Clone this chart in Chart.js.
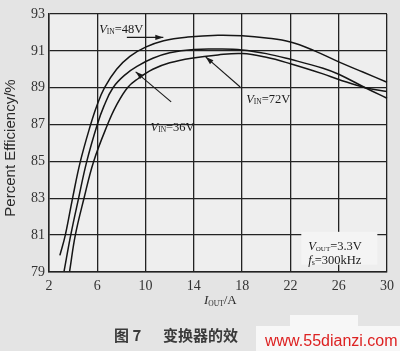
<!DOCTYPE html>
<html>
<head>
<meta charset="utf-8">
<script src="https://cdn.jsdelivr.net/npm/chart.js@4.4.1/dist/chart.umd.min.js"></script>
<style>
  html, body { margin: 0; padding: 0; background: #e4e4e4; }
  #wrap { position: relative; width: 400px; height: 351px; overflow: hidden; background: #e4e4e4; }
  #wrap canvas { position: absolute; left: 0; top: 0; }
  .caption { position: absolute; top: 325px; font-family: "Noto Sans CJK SC"; font-weight: bold; font-size: 15px; line-height: 20px; color: #3a3a3a; white-space: nowrap; }
  .blank { position: absolute; background: #f7f7f7; }
  .mark { position: absolute; left: 265px; top: 331px; font-family: "Liberation Sans", Arial; font-size: 16px; line-height: 20px; color: #dd2222; white-space: nowrap; }
</style>
</head>
<body>
<div id="wrap">
  <canvas id="grafico" width="400" height="351"></canvas>
  <div class="caption" style="left:114px">图 7</div>
  <div class="caption" style="left:163px">变换器的效</div>
  <div class="blank" style="left:290px; top:315px; width:68px; height:12px"></div>
  <div class="blank" style="left:256px; top:326px; width:144px; height:25px"></div>
  <div class="mark">www.55dianzi.com</div>
</div>
<script>
// Ejes
const xMin = 2, xMax = 30, xStep = 4;
const yMin = 79, yMax = 93, yStep = 2;

// Curvas de eficiencia
const iout48 = [2.9, 3.35, 3.95, 4.6, 5.45, 5.95, 6.6, 7.6, 8.7, 10, 11.5, 13.5, 16, 18, 20, 22, 24, 26, 28, 30];
const eff48  = [79.9, 81, 83, 85, 87, 88, 89, 90, 90.7, 91.2, 91.55, 91.75, 91.85, 91.82, 91.7, 91.48, 91.0, 90.4, 89.85, 89.3];

const iout36 = [3.25, 3.8, 4.45, 5.13, 6.0, 6.55, 7.3, 8.3, 9.4, 10.6, 12, 14, 16, 18, 20, 22, 24.7, 26, 28.2, 30];
const eff36  = [79.05, 81, 83, 85, 87, 88, 89, 89.7, 90.2, 90.6, 90.9, 91.08, 91.1, 91.05, 90.85, 90.54, 90.06, 89.73, 89.0, 88.43];

const iout72 = [3.71, 4.18, 4.9, 5.7, 6.85, 7.55, 8.5, 9.4, 10.6, 12.0, 13.8, 16, 18, 20, 22, 24.7, 26, 28.2, 30];
const eff72  = [79.05, 81, 83, 85, 87, 88, 89, 89.5, 90.0, 90.35, 90.6, 90.78, 90.85, 90.65, 90.3, 89.75, 89.45, 89.0, 88.8];

// Etiquetas (en unidades de datos)
const vinNames = ["48V", "36V", "72V"];
const vinLabelPos = [[6.16, 91.97], [10.41, 86.66], [18.33, 88.18]];
const arrowFrom = [[8.45, 91.73], [12.12, 88.23], [17.84, 89.04]];
const arrowTo   = [[11.47, 91.73], [9.18, 89.86], [14.98, 90.67]];
const condBox = [22.9, 81.18, 29.2, 79.4];
const condPos = [[23.47, 80.21], [23.47, 79.45]];

const toPoints = (xs, ys) => xs.map((x, i) => ({ x, y: ys[i] }));

const serif = '"Liberation Serif", "Times New Roman", serif';

// Texto con subíndice
function drawRich(ctx, x, y, parts) {
  let cx = x;
  parts.forEach(p => {
    ctx.font = p.font;
    ctx.fillText(p.t, cx, y + (p.dy || 0));
    cx += ctx.measureText(p.t).width;
  });
  return cx;
}

function drawArrow(ctx, x1, y1, x2, y2) {
  ctx.beginPath();
  ctx.moveTo(x1, y1);
  ctx.lineTo(x2, y2);
  ctx.stroke();
  const a = Math.atan2(y2 - y1, x2 - x1);
  const len = 8, w = 2.6;
  ctx.beginPath();
  ctx.moveTo(x2, y2);
  ctx.lineTo(x2 - len * Math.cos(a) + w * Math.sin(a), y2 - len * Math.sin(a) - w * Math.cos(a));
  ctx.lineTo(x2 - len * Math.cos(a) - w * Math.sin(a), y2 - len * Math.sin(a) + w * Math.cos(a));
  ctx.closePath();
  ctx.fill();
}

const plotBg = {
  id: "plotBg",
  beforeDraw(chart) {
    const { ctx, chartArea: a } = chart;
    ctx.save();
    ctx.fillStyle = "#eeeeee";
    ctx.fillRect(a.left, a.top, a.right - a.left, a.bottom - a.top);
    ctx.restore();
  },
  beforeDatasetsDraw(chart) {
    // recuadro blanco de condiciones
    const { ctx, scales: { x, y } } = chart;
    ctx.save();
    ctx.fillStyle = "#f4f4f4";
    const x1 = x.getPixelForValue(condBox[0]), y1 = y.getPixelForValue(condBox[1]);
    const x2 = x.getPixelForValue(condBox[2]), y2 = y.getPixelForValue(condBox[3]);
    ctx.fillRect(x1, y1, x2 - x1, y2 - y1);
    ctx.restore();
  }
};

const annot = {
  id: "annot",
  afterDraw(chart) {
    const { ctx, scales: { x, y } } = chart;
    ctx.save();
    ctx.fillStyle = "#1a1a1a";
    ctx.strokeStyle = "#1a1a1a";
    ctx.lineWidth = 1.1;
    ctx.textBaseline = "alphabetic";

    vinNames.forEach((n, i) => {
      const px = x.getPixelForValue(vinLabelPos[i][0]);
      const py = y.getPixelForValue(vinLabelPos[i][1]);
      drawRich(ctx, px, py, [
        { t: "V", font: "italic 12.5px " + serif },
        { t: "IN", font: "7.5px " + serif, dy: 1.5 },
        { t: "=" + n, font: "12.5px " + serif }
      ]);
      drawArrow(ctx,
        x.getPixelForValue(arrowFrom[i][0]), y.getPixelForValue(arrowFrom[i][1]),
        x.getPixelForValue(arrowTo[i][0]), y.getPixelForValue(arrowTo[i][1]));
    });

    drawRich(ctx, x.getPixelForValue(condPos[0][0]), y.getPixelForValue(condPos[0][1]), [
      { t: "V", font: "italic 12.5px " + serif },
      { t: "OUT", font: "7px " + serif, dy: 1.5 },
      { t: "=3.3V", font: "12.5px " + serif }
    ]);
    drawRich(ctx, x.getPixelForValue(condPos[1][0]), y.getPixelForValue(condPos[1][1]), [
      { t: "f", font: "italic 12.5px " + serif },
      { t: "s", font: "8px " + serif, dy: 1.5 },
      { t: "=300kHz", font: "12.5px " + serif }
    ]);

    // título eje x
    ctx.fillStyle = "#2a2a2a";
    drawRich(ctx, 204, 304, [
      { t: "I", font: "italic 13px " + serif },
      { t: "OUT", font: "7.5px " + serif, dy: 1.5 },
      { t: "/A", font: "13px " + serif }
    ]);

    // título eje y
    ctx.translate(11, 148);
    ctx.rotate(-Math.PI / 2);
    ctx.font = '15px "Liberation Sans", Arial, sans-serif';
    ctx.textAlign = "center";
    ctx.textBaseline = "middle";
    ctx.fillText("Percent Efficiency/%", 0, 0);
    ctx.restore();
  }
};

const lineStyle = {
  borderColor: "#151515",
  borderWidth: 1.5,
  pointRadius: 0,
  fill: false,
  tension: 0.4
};

const ctx = document.getElementById("grafico").getContext("2d");
const chart = new Chart(ctx, {
  type: "line",
  data: {
    datasets: [
      { label: "48V", data: toPoints(iout48, eff48), ...lineStyle },
      { label: "36V", data: toPoints(iout36, eff36), ...lineStyle },
      { label: "72V", data: toPoints(iout72, eff72), ...lineStyle }
    ]
  },
  options: {
    responsive: false,
    animation: false,
    devicePixelRatio: 1,
    clip: false,
    layout: { padding: { left: 0, right: 8, top: 14, bottom: 49 } },
    plugins: { legend: { display: false }, tooltip: { enabled: false } },
    scales: {
      x: {
        type: "linear",
        min: xMin, max: xMax,
        afterFit: s => { s.height = 30; },
        grid: { color: "#222", lineWidth: 1.3, drawTicks: false },
        border: { color: "#222", width: 1.5 },
        ticks: { stepSize: xStep, padding: 6, color: "#333", font: { family: serif, size: 14 } }
      },
      y: {
        min: yMin, max: yMax,
        afterFit: s => { s.width = 49; },
        grid: { color: "#222", lineWidth: 1.3, drawTicks: false },
        border: { color: "#222", width: 1.5 },
        ticks: { stepSize: yStep, padding: 4, color: "#333", font: { family: serif, size: 14 } }
      }
    }
  },
  plugins: [plotBg, annot]
});
</script>
</body>
</html>
